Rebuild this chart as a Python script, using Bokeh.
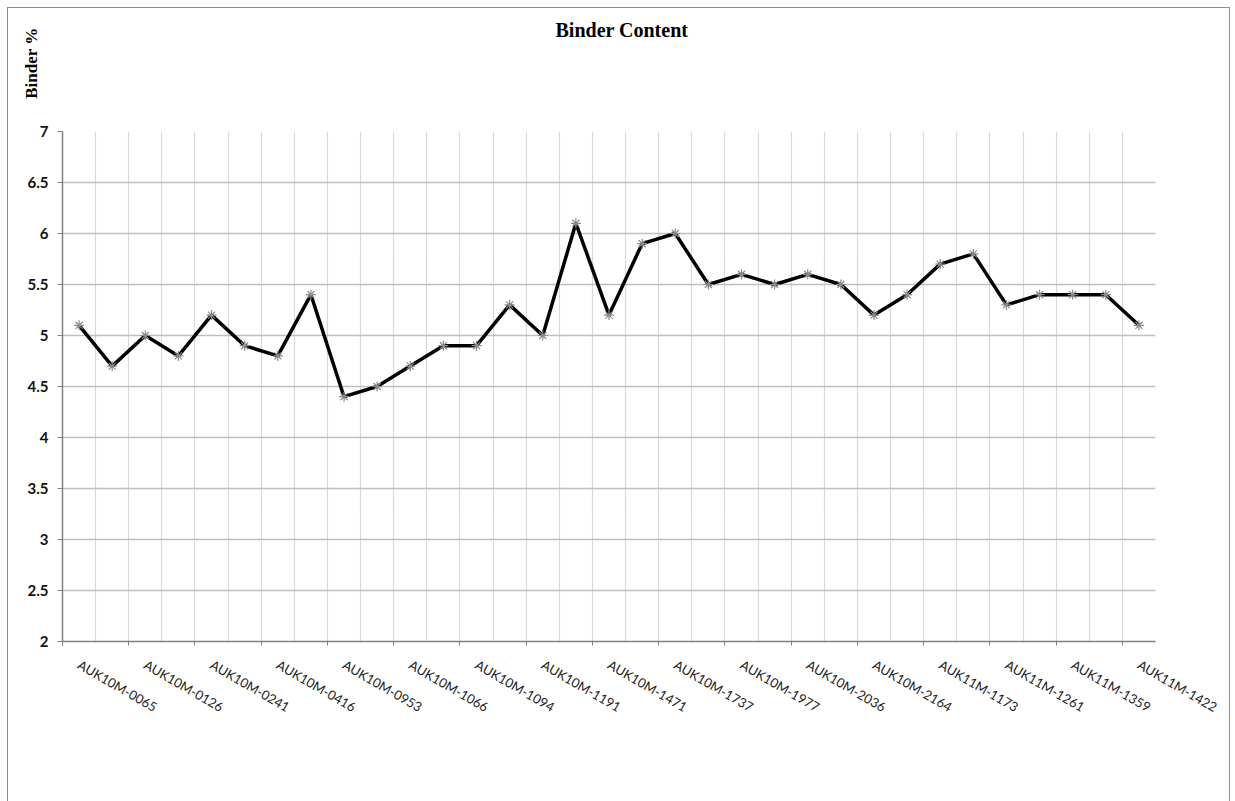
import math

from bokeh.embed import file_html
from bokeh.models import (ColumnDataSource, CustomJSTickFormatter, FixedTicker,
                          Range1d, Title)
from bokeh.plotting import figure
from bokeh.resources import INLINE

# Binder content per sample (%), in test order
binder_pct = [5.1, 4.7, 5.0, 4.8, 5.2, 4.9, 4.8, 5.4, 4.4, 4.5, 4.7,
              4.9, 4.9, 5.3, 5.0, 6.1, 5.2, 5.9, 6.0, 5.5, 5.6, 5.5,
              5.6, 5.5, 5.2, 5.4, 5.7, 5.8, 5.3, 5.4, 5.4, 5.4, 5.1]

# Sample IDs shown on the category axis (every second sample)
shown_ids = ["AUK10M-0065", "AUK10M-0126", "AUK10M-0241", "AUK10M-0416",
             "AUK10M-0953", "AUK10M-1066", "AUK10M-1094", "AUK10M-1191",
             "AUK10M-1471", "AUK10M-1737", "AUK10M-1977", "AUK10M-2036",
             "AUK10M-2164", "AUK11M-1173", "AUK11M-1261", "AUK11M-1359",
             "AUK11M-1422"]

y_ticks = [2, 2.5, 3, 3.5, 4, 4.5, 5, 5.5, 6, 6.5, 7]

n = len(binder_pct)
idx = list(range(n))
label_pos = idx[::2]
boundaries = [i - 0.5 for i in range(n + 1)]

src = ColumnDataSource(data=dict(x=idx, y=binder_pct))

p = figure(width=1223, height=800, output_backend="svg", toolbar_location=None,
           x_range=Range1d(-0.5, n - 0.5), y_range=Range1d(2, 7),
           min_border_left=54, min_border_right=76,
           min_border_top=123, min_border_bottom=167)
p.title = None
p.outline_line_color = None
p.background_fill_color = "white"
p.border_fill_color = "white"
# chart area border (bottom edge falls below the page)
p.styles = {"margin-left": "7px", "margin-top": "7px",
            "border": "1.5px solid #8c8c8c"}

# blank band between the plotting area and the chart title
p.add_layout(Title(text=" ", text_font_size="1px", standoff=88), "above")
# chart title
p.add_layout(Title(text="Binder Content", align="left", offset=493, standoff=0,
                   text_font="Liberation Serif", text_font_style="bold",
                   text_font_size="20px", text_color="black"), "above")

# value-axis caption at the top of the left margin
p.add_layout(Title(text="Binder %", align="right", offset=-104, standoff=-33,
                   text_font="Liberation Serif", text_font_style="bold",
                   text_font_size="17px", text_color="black"), "left")

# category axis: labels at every second sample, tick marks between categories
p.xaxis.ticker = FixedTicker(ticks=label_pos, minor_ticks=boundaries[:-1:2])
p.xaxis.major_label_overrides = {i: name for i, name in zip(label_pos, shown_ids)}
p.xaxis.major_label_orientation = -math.radians(30)
p.xaxis.major_tick_out = 0
p.xaxis.major_tick_in = 0
p.xaxis.minor_tick_out = 4
p.xaxis.minor_tick_in = 0
p.xaxis.minor_tick_line_color = "#808080"
p.xaxis.major_label_standoff = 18
p.xaxis.major_label_text_font = "Lato"
p.xaxis.major_label_text_font_size = "13px"
p.xaxis.major_label_text_color = "#222222"
p.xaxis.axis_line_color = "#808080"
p.xaxis.axis_line_width = 1.5

p.yaxis.ticker = FixedTicker(ticks=y_ticks)
p.yaxis.formatter = CustomJSTickFormatter(code="return String(tick);")
p.yaxis.major_tick_out = 5
p.yaxis.major_tick_in = 0
p.yaxis.minor_tick_out = 0
p.yaxis.minor_tick_in = 0
p.yaxis.major_tick_line_color = "#808080"
p.yaxis.major_label_standoff = 9
p.yaxis.major_label_text_font = "Lato"
p.yaxis.major_label_text_font_style = "bold"
p.yaxis.major_label_text_font_size = "15px"
p.yaxis.major_label_text_color = "#111111"
p.yaxis.axis_line_color = "#808080"
p.yaxis.axis_line_width = 1.5

p.xgrid.ticker = FixedTicker(ticks=boundaries)
p.xgrid.grid_line_color = "#d9d9d9"
p.xgrid.grid_line_width = 1.2
p.ygrid.grid_line_color = "#bfbfbf"
p.ygrid.grid_line_width = 1.5

p.line("x", "y", source=src, line_color="black", line_width=3.5)
p.scatter("x", "y", source=src, marker="asterisk", size=10,
          line_color="#8a8a8a", line_width=1.2)

open("out.html", "w").write(file_html(p, INLINE))
